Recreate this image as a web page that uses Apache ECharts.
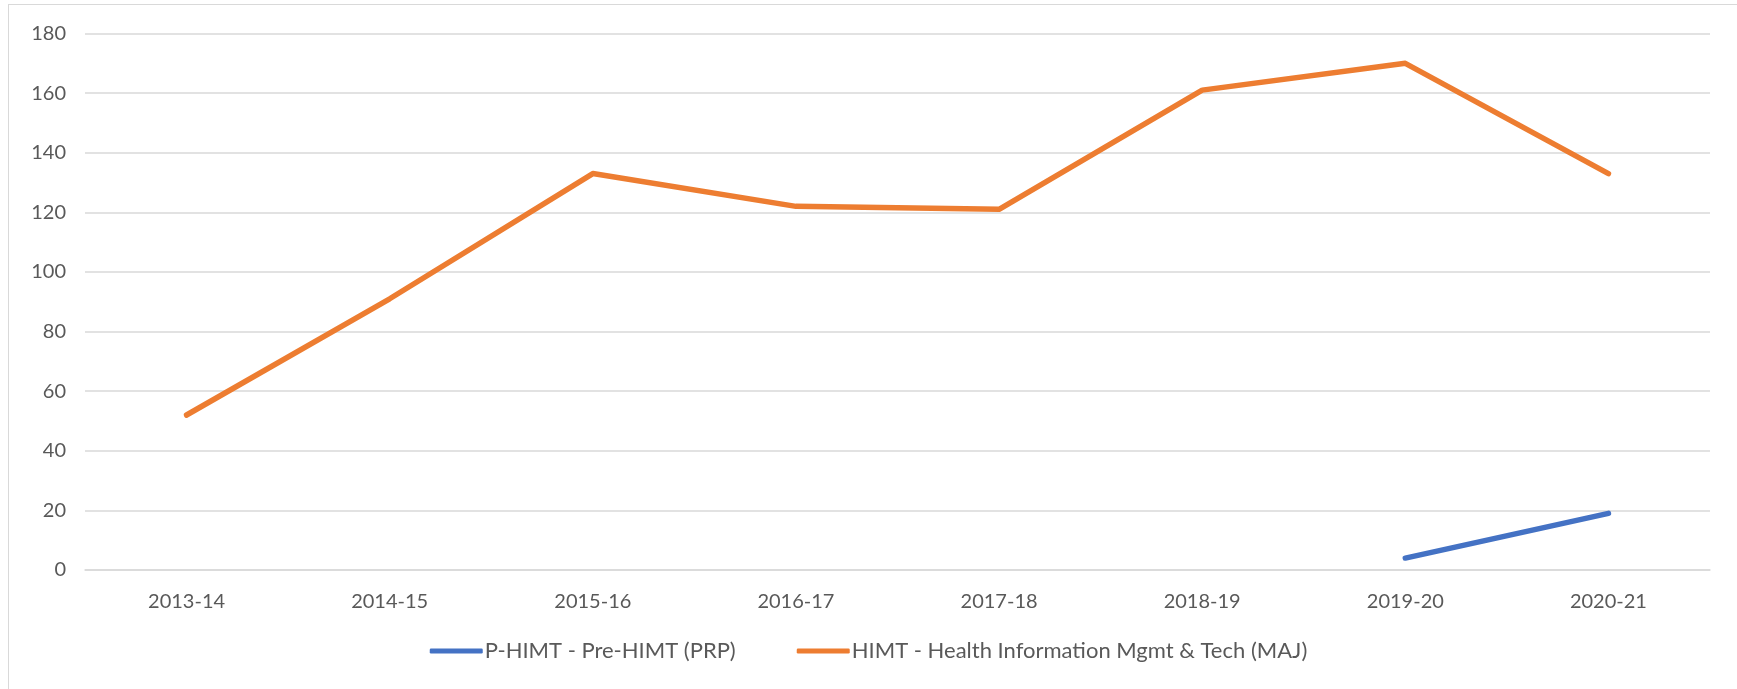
<!DOCTYPE html>
<meta charset="utf-8">
<style>
html, body {
    margin: 0;
    padding: 0;
    overflow: hidden;
    background: #fff;
}
#frame {
    position: absolute;
    left: 8px;
    top: 4px;
    width: 1800px;
    height: 800px;
    border: 1.5px solid #d9d9d9;
}
#main {
    position: absolute;
    left: 0;
    top: 0;
    width: 1737px;
    height: 689px;
}
</style>

<div id="frame"></div>
<div id="main"></div>

<script src="https://cdn.jsdelivr.net/npm/echarts@6/dist/echarts.min.js"></script>
<script>

var years = ['2013-14', '2014-15', '2015-16', '2016-17', '2017-18', '2018-19', '2019-20', '2020-21'];
var preHimt = [null, null, null, null, null, null, 4, 19];
var himt = [52, 91, 133, 122, 121, 161, 170, 133];

var fontFamily = 'Lato, "Open Sans", sans-serif';
var textColor = '#595959';

var chart = echarts.init(document.getElementById('main'));

chart.setOption({
    animation: false,
    grid: {
        left: 85,
        right: 27,
        top: 33.5,
        bottom: 119
    },
    legend: {
        data: ['P-HIMT - Pre-HIMT (PRP)', 'HIMT - Health Information Mgmt & Tech (MAJ)'],
        bottom: 22,
        left: 'center',
        icon: 'roundRect',
        itemWidth: 53,
        itemHeight: 5,
        itemGap: 61,
        textStyle: {
            fontFamily: fontFamily,
            fontSize: 22,
            color: textColor,
            padding: [0, 0, 0, -3]
        }
    },
    xAxis: {
        type: 'category',
        data: years,
        boundaryGap: true,
        axisLine: { lineStyle: { color: '#d9d9d9', width: 1.5 } },
        axisTick: { show: false },
        axisLabel: {
            margin: 22,
            fontFamily: fontFamily,
            fontSize: 20,
            color: textColor
        }
    },
    yAxis: {
        type: 'value',
        min: 0,
        max: 180,
        interval: 20,
        axisLine: { show: false },
        axisTick: { show: false },
        splitLine: { lineStyle: { color: '#d9d9d9', width: 1.5 } },
        axisLabel: {
            margin: 19,
            fontFamily: fontFamily,
            fontSize: 20,
            color: textColor
        }
    },
    series: [
        {
            name: 'P-HIMT - Pre-HIMT (PRP)',
            type: 'line',
            data: preHimt,
            symbol: 'none',
            color: '#4472C4',
            lineStyle: { width: 5.5, cap: 'round', join: 'round' }
        },
        {
            name: 'HIMT - Health Information Mgmt & Tech (MAJ)',
            type: 'line',
            data: himt,
            symbol: 'none',
            color: '#ED7D31',
            lineStyle: { width: 5.5, cap: 'round', join: 'round' }
        }
    ]
});

</script>
